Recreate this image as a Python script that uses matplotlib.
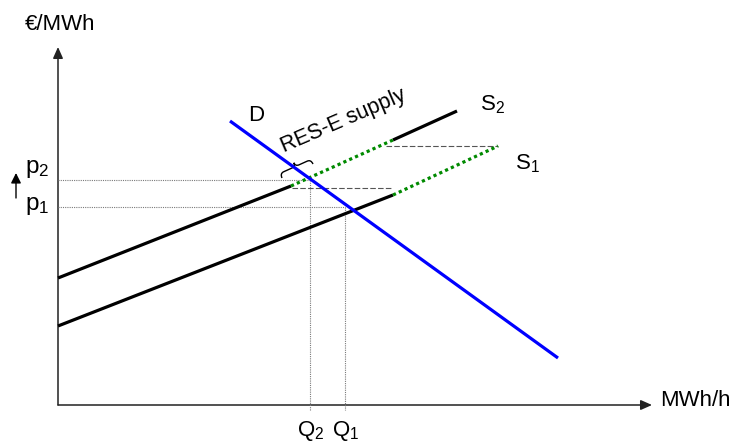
import numpy as np
import matplotlib
matplotlib.use("Agg")
import matplotlib.pyplot as plt
from matplotlib.patches import FancyArrowPatch, PathPatch
from matplotlib.path import Path

plt.rcParams["font.family"] = ["Liberation Sans", "DejaVu Sans"]

# supply curves: (quantity, price) end points of each segment
S1_FOSSIL_Q = [0, 335]
S1_FOSSIL_P = [79, 210]
S1_RES_Q = [335, 440]
S1_RES_P = [210, 259]

S2_LOW_Q = [0, 233]
S2_LOW_P = [127, 219]
S2_RES_Q = [233, 335]
S2_RES_P = [219, 265]
S2_HIGH_Q = [335, 399]
S2_HIGH_P = [265, 294]

# demand
D_Q = [172, 500]
D_P = [284, 47]

# equilibria
Q_EQ = [252, 287]      # Q2, Q1
P_EQ = [225, 198]      # p2, p1

# horizontal shift guides (price level, from q, to q)
SHIFT_P = [259, 217]
SHIFT_Q0 = [328, 234]
SHIFT_Q1 = [440, 335]

AXIS_Q_MAX = 594
AXIS_P_MAX = 358

fig = plt.figure(figsize=(7.36, 4.43), dpi=100)
ax = fig.add_axes([0, 0, 1, 1])
ax.set_xlim(-58, 678)
ax.set_ylim(-38, 405)
ax.axis("off")

BLUE = "#0000ff"
GREEN = "#008a00"
GUIDE = "#7a7a7a"

# axes with arrow heads
for end in [(AXIS_Q_MAX, 0), (0, AXIS_P_MAX)]:
    ax.add_patch(FancyArrowPatch((0, 0), end, arrowstyle="-|>,head_length=0.45,head_width=0.2",
                                 mutation_scale=15, lw=1.1, color="#222222",
                                 shrinkA=0, shrinkB=0))

# equilibrium guides
for q, p in zip(Q_EQ, P_EQ):
    ax.plot([0, q], [p, p], color=GUIDE, lw=0.8, ls=(0, (1, 1)))
    ax.plot([q, q], [p, -5], color=GUIDE, lw=0.8, ls=(0, (1, 1)))

# shift guides
for p, q0, q1 in zip(SHIFT_P, SHIFT_Q0, SHIFT_Q1):
    ax.plot([q0, q1], [p, p], color="#555555", lw=0.8, ls=(0, (5, 2)))

# supply curves
for q, p in [(S1_FOSSIL_Q, S1_FOSSIL_P), (S2_LOW_Q, S2_LOW_P), (S2_HIGH_Q, S2_HIGH_P)]:
    ax.plot(q, p, color="black", lw=2.3, solid_capstyle="butt")
for q, p in [(S1_RES_Q, S1_RES_P), (S2_RES_Q, S2_RES_P)]:
    ax.plot(q, p, color=GREEN, lw=2.3, ls=(0, (1, 1)), dash_capstyle="butt")

# demand
ax.plot(D_Q, D_P, color=BLUE, lw=2.3, solid_capstyle="butt")

# curly brace over the RES-E part of S2
W, a, r = 34.0, 5.0, 4.0
verts = [(0, 0), (0, a), (r, a), (W / 2 - r, a), (W / 2, a), (W / 2, a + r),
         (W / 2, a), (W / 2 + r, a), (W - r, a), (W, a), (W, 0)]
codes = [Path.MOVETO, Path.CURVE3, Path.CURVE3, Path.LINETO, Path.CURVE3, Path.CURVE3,
         Path.CURVE3, Path.CURVE3, Path.LINETO, Path.CURVE3, Path.CURVE3]
ang = np.arctan2(S2_RES_P[1] - S2_RES_P[0], S2_RES_Q[1] - S2_RES_Q[0])
rot = np.array([[np.cos(ang), -np.sin(ang)], [np.sin(ang), np.cos(ang)]])
origin = np.array([224.0, 227.0])
pts = np.array(verts) @ rot.T + origin
ax.add_patch(PathPatch(Path(pts, codes), fill=False, lw=1.0, color="black"))

ax.text(226, 253, "RES-E supply", fontsize=15.5, rotation=np.degrees(ang) - 1,
        rotation_mode="anchor", ha="left", va="baseline")

# labels
lab = dict(fontsize=16, color="black")
ax.text(2, 381, "€/MWh", ha="center", va="center", fontsize=16)
ax.text(602, 4, "MWh/h", ha="left", va="center", fontsize=16)
ax.text(198, 290, "D", ha="center", va="center", **lab)
ax.text(S2_HIGH_Q[1] + 23, S2_HIGH_P[1] + 1, r"$\mathregular{S_2}$", ha="left", va="baseline", **lab)
ax.text(S1_RES_Q[1] + 17, S1_RES_P[1] - 23, r"$\mathregular{S_1}$", ha="left", va="baseline", **lab)
ax.text(Q_EQ[0] - 13, -31, r"$\mathregular{Q_2}$", ha="left", va="baseline", **lab)
ax.text(Q_EQ[1] - 13, -31, r"$\mathregular{Q_1}$", ha="left", va="baseline", **lab)
ax.text(-33, P_EQ[0] + 7, r"$\mathregular{p_2}$", ha="left", va="baseline", fontsize=17.5)
ax.text(-33, P_EQ[1] - 3, r"$\mathregular{p_1}$", ha="left", va="baseline", fontsize=17.5)

# small arrow: price rises from p1 to p2
ax.add_patch(FancyArrowPatch((-42, 207), (-42, 232), arrowstyle="-|>,head_length=0.5,head_width=0.25",
                             mutation_scale=12, lw=1.0, color="black", shrinkA=0, shrinkB=0))

fig.savefig("out.png", dpi=100)
